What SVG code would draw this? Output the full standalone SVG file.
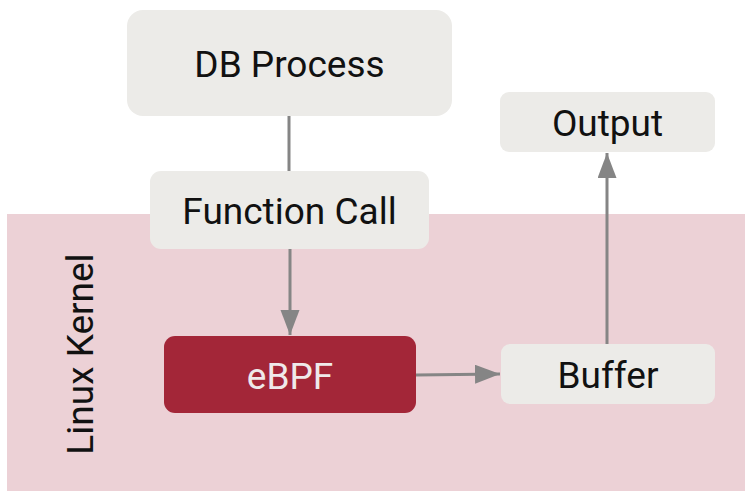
<svg xmlns="http://www.w3.org/2000/svg" width="745" height="491" viewBox="0 0 745 491">
  <style>
    .box { fill: #ecebe8; }
    .lbl { font-family: Roboto, "Liberation Sans", sans-serif; font-size: 37px; fill: #111111; text-anchor: middle; }
    .edge { stroke: #858585; stroke-width: 3; fill: none; }
  </style>
  <defs>
    <marker id="arrow" markerUnits="userSpaceOnUse" markerWidth="26" markerHeight="20" refX="25" refY="9.5" orient="auto">
      <path d="M0,0 L25,9.5 L0,19 Z" fill="#858585"/>
    </marker>
  </defs>

  <!-- kernel region -->
  <g id="kernel">
    <rect x="7" y="214" width="740" height="280" fill="#ecd1d6"/>
    <text class="lbl" transform="translate(93,354) rotate(-90)">Linux Kernel</text>
  </g>

  <!-- connectors -->
  <g id="connectors">
    <line class="edge" x1="289" y1="116" x2="289" y2="172"/>
    <line class="edge" x1="290" y1="249" x2="290" y2="335" marker-end="url(#arrow)"/>
    <line class="edge" x1="416" y1="375" x2="500" y2="374" marker-end="url(#arrow)"/>
    <line class="edge" x1="607" y1="344" x2="607" y2="153" marker-end="url(#arrow)"/>
  </g>

  <g id="db-process">
    <rect class="box" x="127" y="10" width="325" height="106" rx="16"/>
    <text class="lbl" x="289.5" y="76.5">DB Process</text>
  </g>

  <g id="function-call">
    <rect class="box" x="150" y="171" width="279" height="78" rx="11"/>
    <text class="lbl" x="289.5" y="223.5">Function Call</text>
  </g>

  <g id="ebpf">
    <rect x="164" y="336" width="252" height="77" rx="11" fill="#a32638"/>
    <text class="lbl" x="290" y="388.5" style="fill:#efe9ea">eBPF</text>
  </g>

  <g id="buffer">
    <rect class="box" x="501" y="344" width="214" height="60" rx="9"/>
    <text class="lbl" x="608" y="387.5">Buffer</text>
  </g>

  <g id="output">
    <rect class="box" x="500" y="92" width="215" height="60" rx="9"/>
    <text class="lbl" x="607.5" y="135.5">Output</text>
  </g>
</svg>
